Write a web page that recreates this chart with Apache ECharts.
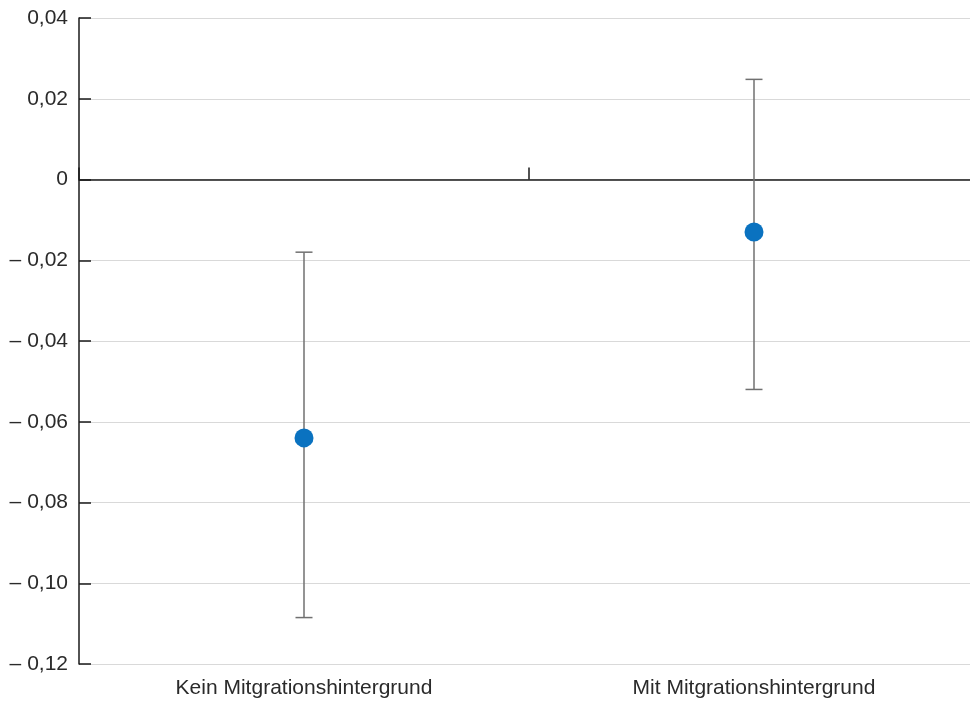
<!DOCTYPE html>
<html><head><meta charset="utf-8">
<script src="https://cdn.jsdelivr.net/npm/echarts@6/dist/echarts.min.js"></script>
<style>html,body{margin:0;padding:0;background:#fff;overflow:hidden;width:970px;height:701px}#c{width:979px;height:701px}</style>
</head><body><div id="c"></div>
<script>
const categories = ['Kein Mitgrationshintergrund', 'Mit Mitgrationshintergrund'];
const pointValues = [-0.064, -0.013];
const lowerValues = [-0.1085, -0.052];
const upperValues = [-0.018, 0.0248];

function fmt(v) {
  if (Math.abs(v) < 1e-9) return '0';
  const s = Math.abs(v).toFixed(2).replace('.', ',');
  return v < 0 ? '\u2013 ' + s : s;
}

const chart = echarts.init(document.getElementById('c'));
const font = 'Liberation Sans, Arial, sans-serif';
chart.setOption({
  animation: false,
  grid: { left: 79, right: 0, top: 18, bottom: 37, containLabel: false },
  xAxis: [
    {
      type: 'category', data: categories, position: 'bottom',
      axisLine: { show: false, onZero: false }, axisTick: { show: false },
      axisLabel: { color: '#2a2a2a', fontSize: 21, fontFamily: font, margin: 14 },
      splitLine: { show: false }
    },
    {
      type: 'category', data: categories, position: 'bottom',
      axisLine: { show: true, onZero: true, lineStyle: { color: '#1a1a1a', width: 1.5 } },
      axisTick: { show: true, inside: true, length: 12, lineStyle: { color: '#1a1a1a', width: 1.5 } },
      axisLabel: { show: false }, splitLine: { show: false }
    }
  ],
  yAxis: {
    type: 'value', min: -0.12, max: 0.04, interval: 0.02,
    axisLine: { show: true, lineStyle: { color: '#1a1a1a', width: 1.5 } },
    axisTick: { show: true, inside: true, length: 12, lineStyle: { color: '#1a1a1a', width: 1.5 } },
    axisLabel: { color: '#2a2a2a', fontSize: 21, fontFamily: font, margin: 11, formatter: fmt },
    splitLine: { show: true, lineStyle: { color: '#d9d9d9', width: 1 } }
  },
  series: [
    {
      type: 'custom', xAxisIndex: 0,
      data: categories.map((c, i) => [i, lowerValues[i], upperValues[i]]),
      renderItem: function (params, api) {
        const x = api.value(0);
        const lo = api.coord([x, api.value(1)]);
        const hi = api.coord([x, api.value(2)]);
        const hw = 8.5;
        const style = { stroke: '#707070', lineWidth: 1.5, fill: 'none' };
        return {
          type: 'group',
          children: [
            { type: 'line', shape: { x1: lo[0], y1: lo[1], x2: hi[0], y2: hi[1] }, style: style },
            { type: 'line', shape: { x1: lo[0] - hw, y1: lo[1], x2: lo[0] + hw, y2: lo[1] }, style: style },
            { type: 'line', shape: { x1: hi[0] - hw, y1: hi[1], x2: hi[0] + hw, y2: hi[1] }, style: style }
          ]
        };
      },
      z: 2
    },
    {
      type: 'scatter', xAxisIndex: 0,
      data: pointValues.map((v, i) => [i, v]),
      symbol: 'circle', symbolSize: 19,
      itemStyle: { color: '#0A72C0', opacity: 1 },
      z: 3
    }
  ]
});
</script></body></html>
